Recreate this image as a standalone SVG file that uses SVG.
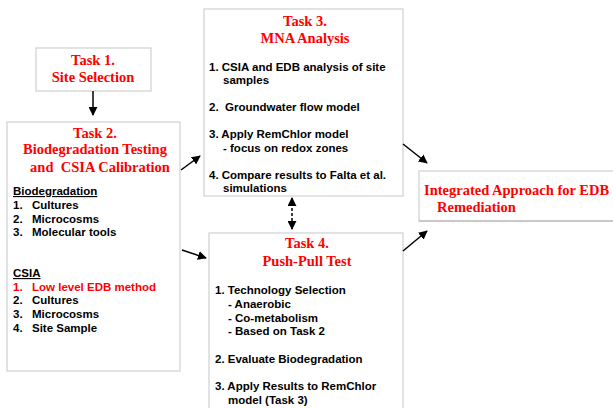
<svg xmlns="http://www.w3.org/2000/svg" width="613" height="408" viewBox="0 0 613 408">
<style>
.box{fill:#fff;stroke:#d0d0d0;stroke-width:1.2}
.t{font-family:"Liberation Serif",serif;font-weight:bold;font-size:14.5px;fill:#ff0000}
.b{font-family:"Liberation Sans",Arial,sans-serif;font-weight:bold;font-size:11.5px;fill:#000}
.r{fill:#ff0000}
.c{stroke:#000;stroke-width:1.5;fill:none}
</style>
<defs>
<marker id="ah" viewBox="0 0 10 10" refX="9" refY="5" markerWidth="6" markerHeight="6" orient="auto-start-reverse">
<path d="M0,0 L10,5 L0,10 z" fill="#000"/>
</marker>
</defs>
<rect width="613" height="408" fill="#fff"/>
<g id="task1">
<rect class="box" x="36" y="48" width="115" height="43"/>
<text class="t" x="93" y="65" text-anchor="middle">Task 1.</text>
<text class="t" x="93" y="82" text-anchor="middle">Site Selection</text>
</g>
<g id="task2">
<rect class="box" x="7" y="122" width="173" height="249"/>
<text class="t" x="95" y="138" text-anchor="middle">Task 2.</text>
<text class="t" x="95" y="154" text-anchor="middle">Biodegradation Testing</text>
<text class="t" x="100" y="172" text-anchor="middle">and &#160;CSIA Calibration</text>
<text class="b" x="13" y="195" text-decoration="underline">Biodegradation</text>
<text class="b" x="13" y="209">1.</text><text class="b" x="32" y="209">Cultures</text>
<text class="b" x="13" y="223">2.</text><text class="b" x="32" y="223">Microcosms</text>
<text class="b" x="13" y="236">3.</text><text class="b" x="32" y="236">Molecular tools</text>
<text class="b" x="13" y="277" text-decoration="underline">CSIA</text>
<text class="b r" x="13" y="291">1.</text><text class="b r" x="32" y="291">Low level EDB method</text>
<text class="b" x="13" y="304">2.</text><text class="b" x="32" y="304">Cultures</text>
<text class="b" x="13" y="318">3.</text><text class="b" x="32" y="318">Microcosms</text>
<text class="b" x="13" y="332">4.</text><text class="b" x="32" y="332">Site Sample</text>
</g>
<g id="task3">
<rect class="box" x="204" y="9" width="199" height="187"/>
<text class="t" x="305" y="26" text-anchor="middle">Task 3.</text>
<text class="t" x="305" y="43" text-anchor="middle">MNA Analysis</text>
<text class="b" x="209" y="71">1. CSIA and EDB analysis of site</text>
<text class="b" x="223" y="84">samples</text>
<text class="b" x="209" y="111">2. &#160;Groundwater flow model</text>
<text class="b" x="209" y="138">3. Apply RemChlor model</text>
<text class="b" x="223" y="152">- focus on redox zones</text>
<text class="b" x="209" y="179">4. Compare results to Falta et al.</text>
<text class="b" x="223" y="192">simulations</text>
</g>
<g id="task4">
<rect class="box" x="209" y="233" width="194" height="180"/>
<text class="t" x="307" y="248" text-anchor="middle">Task 4.</text>
<text class="t" x="307" y="266" text-anchor="middle">Push-Pull Test</text>
<text class="b" x="215" y="294">1. Technology Selection</text>
<text class="b" x="228" y="308">- Anaerobic</text>
<text class="b" x="228" y="322">- Co-metabolism</text>
<text class="b" x="228" y="335">- Based on Task 2</text>
<text class="b" x="215" y="363">2. Evaluate Biodegradation</text>
<text class="b" x="215" y="390">3. Apply Results to RemChlor</text>
<text class="b" x="228" y="404">model (Task 3)</text>
</g>
<g id="integrated">
<rect class="box" x="419" y="171" width="200" height="50"/>
<line x1="419" y1="221" x2="613" y2="221" stroke="#b0b0b0" stroke-width="1.2"/>
<text class="t" x="424" y="195">Integrated Approach for EDB</text>
<text class="t" x="437" y="212">Remediation</text>
</g>
<g id="connectors">
<line class="c" x1="93" y1="91" x2="93" y2="115" marker-end="url(#ah)"/>
<line class="c" x1="181" y1="170" x2="200" y2="156" marker-end="url(#ah)"/>
<line class="c" x1="182" y1="250" x2="206" y2="258" marker-end="url(#ah)"/>
<line class="c" x1="403" y1="144" x2="427" y2="163" marker-end="url(#ah)"/>
<line class="c" x1="403" y1="251" x2="427" y2="231" marker-end="url(#ah)"/>
<line class="c" x1="292" y1="198" x2="292" y2="229" stroke-dasharray="3,2" marker-start="url(#ah)" marker-end="url(#ah)"/>
</g>
</svg>
